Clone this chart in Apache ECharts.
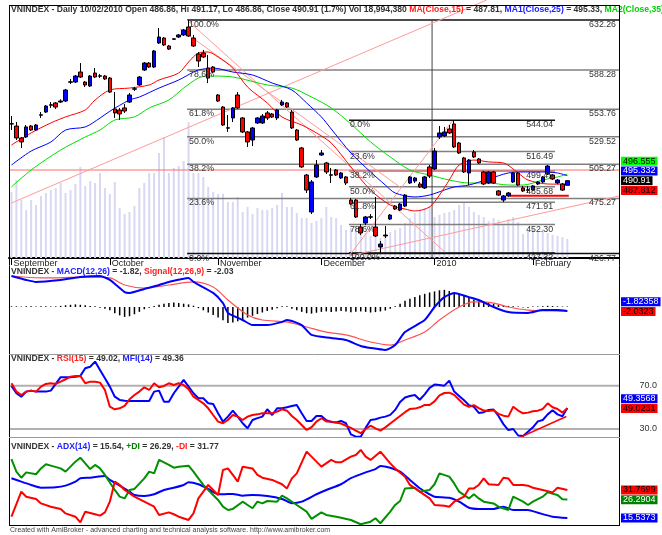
<!DOCTYPE html>
<html><head><meta charset="utf-8">
<script src="https://cdn.jsdelivr.net/npm/echarts/dist/echarts.min.js"></script>
<style>html,body{margin:0;padding:0;background:#fff}#c{width:662px;height:535px}</style>
</head><body><div id="c"></div>
<script>
// ---------------- DATA ----------------
const months = [[0,'September'],[20,'October'],[42,'November'],[63,'December'],[86,'2010'],[106,'February']];
const NCAT = 124;
const open  = [540.8,539.0,528.5,529.4,539.0,535.5,548.5,551.3,557.3,559.3,560.1,561.0,577.5,577.7,586.5,577.7,574.2,585.6,583.2,583.0,581.2,554.0,553.1,554.9,560.1,571.4,575.1,588.3,594.4,590.9,612.0,616.4,609.4,615.3,617.3,619.1,626.1,616.4,602.4,603.2,590.0,590.9,566.3,555.7,537.5,546.1,566.3,546.1,533.8,526.7,541.7,541.7,550.5,549.6,546.1,557.5,559.3,551.3,535.5,519.7,495.9,463.4,494.2,513.5,506.5,496.1,500.3,493.3,494.2,473.9,473.9,450.2,453.7,459.2,450.2,432.6,442.3,457.2,468.6,465.1,468.6,488.9,490.6,488.0,484.5,503.0,501.2,529.4,530.3,536.4,540.8,524.1,510.9,497.7,516.1,510.0,498.6,488.9,498.6,481.9,473.9,477.5,489.8,497.7,484.5,482.9,482.7,488.0,489.8,496.8,495.9,488.9,488.0,486.86];
const close = [541.0,528.5,525.0,538.2,535.5,539.9,548.9,556.6,557.7,555.7,561.0,570.7,577.9,583.0,582.1,575.1,583.0,582.1,582.8,580.4,568.9,550.5,549.6,552.2,566.3,571.8,582.1,594.4,590.9,605.0,617.3,610.3,606.7,615.7,619.1,623.5,618.2,609.4,596.2,599.7,581.2,586.5,561.0,539.9,537.1,554.9,554.9,533.8,525.0,537.3,546.1,547.8,546.1,546.9,553.1,560.1,555.7,537.3,526.7,503.0,482.7,489.8,504.7,515.3,498.6,495.7,495.9,497.7,488.9,470.4,459.0,444.9,459.0,458.8,442.3,435.2,443.1,460.7,466.0,470.4,478.3,494.2,493.3,485.4,494.2,495.0,517.0,532.9,533.8,532.9,520.6,515.3,498.6,509.1,511.8,506.5,488.0,498.6,488.9,478.3,477.5,480.1,497.7,487.1,481.9,482.5,486.3,489.8,494.2,503.8,492.4,491.5,482.7,490.91];
const low   = [535.5,526.7,519.7,528.5,534.6,534.6,546.1,550.5,554.9,554.0,559.3,560.1,576.0,576.8,581.2,573.3,573.3,581.2,581.2,579.5,568.1,546.1,544.3,550.5,559.3,569.8,574.2,587.4,590.0,590.0,611.2,609.4,605.9,614.7,616.4,618.2,617.3,608.5,590.9,598.8,576.8,585.6,560.1,539.0,533.8,542.5,554.0,532.9,520.6,521.4,540.8,540.8,544.3,546.1,544.3,556.6,554.9,536.4,525.8,502.1,480.1,461.6,493.3,512.6,496.8,488.9,495.0,492.4,487.1,469.5,458.1,443.1,451.9,457.2,441.4,427.3,440.5,456.3,465.1,464.2,467.7,488.0,488.9,484.5,483.6,493.3,500.3,527.6,529.4,532.0,519.7,514.4,497.7,487.1,510.9,505.6,487.1,488.0,488.0,477.5,472.2,476.6,488.9,486.3,481.0,480.1,481.9,487.1,488.9,495.9,491.5,488.0,481.9,486.86];
const high  = [547.8,542.5,529.4,539.9,539.9,540.8,551.3,557.5,560.1,560.1,562.5,571.6,580.4,583.9,594.4,578.6,583.9,590.0,584.8,583.9,582.1,568.9,554.9,558.4,568.1,573.3,583.0,595.3,595.3,605.9,625.2,617.3,610.3,616.4,620.0,624.4,632.26,619.1,604.1,605.9,601.5,591.8,567.2,556.6,548.7,555.7,568.9,546.9,534.6,538.2,546.9,549.6,552.2,550.5,554.0,561.9,560.1,553.1,536.4,520.6,496.8,491.5,509.1,517.9,507.4,502.1,501.2,498.6,495.0,475.7,474.8,452.8,459.9,461.6,476.6,437.9,451.1,461.6,469.5,471.3,479.2,495.0,494.2,489.8,495.0,504.7,519.7,539.0,538.2,539.9,544.04,525.0,511.8,510.0,517.9,510.9,499.5,499.5,499.5,482.7,478.3,481.0,498.6,498.6,486.3,486.3,487.1,490.6,495.0,504.7,496.8,492.4,488.9,491.17];
const volumeM = [66,78,58,48,58,53,62,65,68,70,75,65,68,74,91,72,77,75,85,70,64,76,50,44,46,52,70,75,85,85,105,121,85,90,92,97,136,85,85,81,71,66,64,64,56,56,61,46,51,44,50,48,48,50,53,65,51,51,45,40,40,35,37,40,51,41,40,33,28,30,32,27,25,22,24,20,22,26,28,30,35,40,45,48,50,52,41,43,45,46,48,53,56,51,46,43,41,37,40,38,33,39,41,36,24,28,30,26,29,25,23,22,21,18.99];
const ma15 = [[0,522.3],[4,532.9],[8,541.7],[11,547.0],[15,553.1],[17,561.9],[20,570.7],[24,572.4],[28,575.1],[30,579.5],[34,585.6],[36,595.3],[38,603.2],[40,604.1],[42,599.7],[45,590.0],[48,573.3],[52,559.3],[55,546.9],[59,539.9],[62,532.9],[65,524.1],[69,503.0],[73,482.7],[77,469.5],[80,466.0],[82,464.3],[85,467.8],[87,478.3],[89,491.5],[91,504.7],[94,509.1],[97,507.4],[100,506.5],[103,497.7],[105,491.5],[109,488.0],[113,487.81]];
const ma25 = [[0,504.7],[4,517.0],[8,524.9],[11,535.5],[15,538.2],[18,546.0],[20,552.0],[24,561.9],[26,564.5],[30,572.4],[34,579.5],[37,586.5],[38,588.3],[41,590.0],[45,586.5],[49,583.9],[53,576.8],[57,570.7],[60,559.3],[63,547.0],[65,536.4],[69,515.3],[73,498.6],[76,487.1],[78,480.1],[82,476.6],[85,478.3],[88,482.7],[90,485.4],[93,487.1],[97,492.4],[101,497.7],[104,498.6],[108,498.6],[111,497.7],[113,495.33]];
const ma35 = [[0,485.4],[4,500.3],[10,517.9],[15,529.3],[18,535.5],[21,544.3],[25,547.0],[28,554.9],[32,561.9],[35,572.4],[38,581.2],[40,583.0],[45,582.1],[52,575.1],[57,572.4],[61,564.5],[65,554.9],[69,540.8],[73,525.0],[77,511.8],[81,500.3],[85,495.9],[89,491.5],[93,488.9],[97,488.9],[101,487.1],[104,487.1],[108,491.5],[111,494.2],[113,496.555]];
const macd = [[0,14.1],[3,12.3],[5,11.4],[10,12.3],[14,13.6],[18,14.1],[20,12.3],[23,6.8],[24,6.4],[27,8.2],[30,10.0],[32,11.4],[36,13.2],[37,11.4],[41,6.4],[43,1.8],[44,-2.7],[47,-5.9],[49,-8.2],[52,-8.2],[55,-6.8],[56,-5.9],[59,-8.2],[61,-12.7],[65,-14.1],[68,-15.0],[71,-17.7],[73,-18.6],[76,-19.5],[78,-17.3],[80,-11.4],[84,-5.9],[86,0],[88,4.5],[90,6.4],[93,4.5],[95,3.2],[98,0],[101,-2.3],[105,-2.7],[108,-1.4],[111,-1.4],[113,-1.82]];
const signal = [[0,14.1],[6,13.2],[15,13.6],[20,13.2],[23,10.0],[27,8.6],[32,10.0],[37,11.4],[41,9.1],[44,3.2],[48,-3.6],[51,-5.9],[56,-6.8],[60,-9.1],[64,-11.4],[68,-12.7],[73,-15.9],[77,-17.3],[80,-15.0],[84,-11.4],[87,-5.9],[91,0],[94,2.3],[98,1.8],[101,0],[105,-1.4],[110,-1.8],[113,-2.03]];
const macdHist = [0.3,0.3,0.2,0.3,0.3,0.2,0.3,0.3,0.2,0.3,0.5,0.8,1.0,1.2,1.0,0.8,0.5,0.3,-0.3,-0.8,-1.5,-2.8,-3.8,-4.5,-4.2,-3.3,-2.2,-1.0,-0.3,0.5,1.0,1.5,1.8,2.0,1.8,1.5,1.2,0.6,-0.5,-1.5,-2.5,-3.6,-4.8,-6.0,-7.3,-7.0,-6.5,-5.6,-4.8,-4.0,-3.2,-2.5,-1.8,-1.2,-0.6,0.3,0.3,-0.8,-1.5,-2.2,-2.8,-3.0,-2.6,-2.2,-2.0,-2.3,-2.0,-1.8,-2.0,-2.4,-2.2,-2.0,-2.2,-2.5,-2.3,-2.0,-1.6,-0.8,0.3,1.5,2.8,3.8,4.6,5.4,6.0,6.6,7.1,7.6,7.8,7.3,6.6,5.8,5.0,4.2,3.4,2.8,2.2,1.8,1.4,1.1,0.8,0.5,0.3,0.2,-0.2,-0.3,0.2,0.2,0.3,0.5,0.4,0.3,0.2,0.21];
const rsi = [72.2,64.5,61.4,64.5,65.4,64.5,69.1,71.6,72.2,71.6,73.7,75.9,78.3,79.0,79.0,72.2,73.7,73.7,72.8,66.0,50.6,48.2,49.1,51.3,57.4,61.4,64.5,68.5,66.0,72.2,68.5,69.7,72.2,70.6,72.2,70.6,66.7,59.8,56.8,53.7,49.1,42.9,36.8,35.3,38.3,42.9,41.4,38.3,41.4,42.9,43.5,44.5,44.5,44.5,46.0,48.2,46.9,42.0,38.3,33.7,29.1,31.6,36.8,39.9,37.0,36.8,36.0,35.0,33.0,31.0,28.5,26.1,30.0,33.0,30.5,28.5,31.5,35.0,38.5,42.0,45.5,48.5,48.8,50.0,52.2,52.2,55.5,61.0,63.2,63.5,61.5,57.0,52.5,50.5,52.0,49.3,47.0,46.5,47.3,44.0,42.3,41.4,50.6,47.0,44.5,45.1,46.3,46.9,48.5,53.7,50.0,48.5,45.1,49.02];
const mfi = [69.7,63.0,59.8,64.5,65.4,64.5,64.5,64.5,65.4,71.6,77.8,77.8,77.8,78.3,79.0,86.1,87.5,92.2,84.5,76.8,69.1,59.8,56.8,56.1,55.9,55.9,55.9,55.9,55.9,64.5,65.4,55.2,55.2,63.0,69.1,75.3,69.1,63.0,58.4,58.4,53.7,53.1,44.5,36.8,41.4,46.9,41.4,35.3,30.7,38.3,40.0,41.4,48.2,42.9,49.1,49.1,50.1,51.3,52.2,44.5,37.4,37.4,42.0,42.0,38.0,36.5,36.0,37.5,35.3,25.0,22.9,22.9,31.0,38.3,39.0,40.5,41.4,43.0,47.6,55.0,59.0,60.5,61.4,57.0,62.0,68.0,71.0,70.5,70.0,74.6,64.5,60.5,56.5,52.0,50.5,44.8,45.5,47.5,48.0,42.0,34.5,29.0,30.0,24.0,23.5,27.5,31.5,37.0,38.3,43.5,47.3,43.5,41.8,49.36];
const adx = [[0,38.6],[2,36.6],[4,34.7],[6,33.1],[9,33.3],[11,34.3],[13,36.6],[14,38.6],[16,38.9],[19,39.9],[20,37.6],[22,34.3],[24,30.8],[25,28.9],[27,28.3],[29,29.3],[31,31.8],[33,33.1],[35,34.7],[36,36.2],[38,35.1],[40,32.4],[42,29.3],[43,29.3],[45,29.5],[47,28.5],[49,28.9],[52,28.3],[55,26.6],[57,24.1],[59,25.0],[62,29.3],[64,31.8],[67,35.1],[69,38.6],[72,42.0],[74,43.9],[75,45.7],[77,44.7],[79,42.4],[81,37.6],[83,32.8],[85,29.3],[86,27.9],[89,27.3],[91,25.0],[93,21.5],[95,20.8],[98,20.8],[100,22.1],[102,20.2],[105,20.2],[107,18.6],[110,16.3],[113,15.54]];
const plusDI = [[0,49.7],[1,42.4],[2,38.9],[3,42.0],[5,40.9],[6,44.3],[7,46.7],[8,45.9],[10,44.3],[11,42.4],[12,45.3],[13,48.2],[14,50.5],[15,47.2],[16,43.9],[17,46.3],[18,44.3],[19,40.5],[21,31.8],[22,27.9],[23,26.9],[24,31.8],[25,32.4],[27,38.5],[28,42.4],[29,41.4],[30,49.2],[32,46.3],[33,44.7],[34,45.3],[36,45.9],[37,42.4],[38,38.5],[39,34.7],[40,31.8],[42,26.0],[43,22.1],[44,20.2],[45,20.8],[47,25.0],[48,23.1],[49,21.2],[50,25.0],[51,24.0],[52,25.4],[54,25.0],[55,28.5],[56,26.9],[58,23.1],[60,19.2],[61,15.0],[63,18.8],[64,17.3],[66,16.3],[67,15.7],[69,14.4],[71,11.9],[73,13.4],[74,15.4],[75,12.5],[77,19.2],[78,23.1],[79,25.4],[80,32.7],[82,33.1],[83,30.8],[85,31.8],[86,35.1],[87,41.4],[89,39.5],[90,35.6],[91,30.8],[93,26.9],[94,29.3],[95,26.9],[96,25.0],[98,24.0],[99,22.1],[101,20.2],[102,27.9],[104,25.0],[105,23.1],[106,25.0],[108,27.9],[109,30.4],[111,28.9],[112,26.4],[113,26.29]];
const minusDI = [[0,16.3],[2,30.8],[3,27.9],[5,26.6],[6,24.0],[8,22.1],[10,20.8],[11,18.2],[13,16.3],[14,13.0],[15,19.2],[17,17.7],[18,16.9],[19,18.8],[20,25.0],[21,36.6],[22,34.7],[23,31.8],[25,27.9],[27,25.0],[29,22.1],[30,17.3],[32,18.8],[33,17.7],[34,16.3],[36,14.4],[37,18.2],[38,26.9],[40,34.7],[42,28.9],[43,43.4],[44,44.3],[45,40.5],[46,36.6],[47,45.3],[49,44.3],[50,40.5],[51,38.9],[53,37.6],[55,35.1],[56,32.7],[57,38.5],[58,41.4],[60,54.0],[61,51.1],[63,45.3],[65,49.2],[66,47.8],[67,47.8],[69,51.1],[70,52.1],[71,55.0],[72,51.1],[73,49.2],[75,54.0],[77,47.2],[78,44.3],[80,39.5],[81,34.7],[83,30.8],[85,26.9],[86,23.1],[88,22.7],[89,22.1],[90,25.0],[92,27.9],[93,32.7],[94,32.7],[95,34.7],[96,38.5],[97,35.1],[99,34.7],[100,38.9],[101,38.5],[102,34.7],[104,34.7],[105,34.3],[106,33.1],[108,31.8],[110,30.4],[111,33.1],[113,31.77]];
// Fibonacci tools (levels) and drawn lines
const fibLeftLevels = [632.26,588.28,553.76,529.52,505.27,475.27,426.77];
const fibLeftPct = ['100.0%','78.6%','61.8%','50.0%','38.2%','23.6%','0.0%'];
const fibLeftSpan = [35.7, 123.5];
const fibRightLevels = [544.04,516.49,499.45,485.68,471.91,452.30,427.32];
const fibRightPct = ['0.0%','23.6%','38.2%','50.0%','61.8%','78.6%','100.0%'];
const fibRightSpan = [68.6, 110.5];
const trendLines = [
  [[0,471.3],[96.6,649.85]],
  [[68.6,424.7],[123.5,477.45]],
  [[68.8,425.8],[89.6,543.3]],
  [[35.7,632.26],[88.1,428.2]],
  [[34.3,624.3],[79.0,485.3]]
];
const hLine500 = [[-0.5,500.3],[123.5,500.3]];
const supportLine = [[101.3,477.7],[113.3,477.7]];
const yearLine = [[85.5,632.26],[85.5,422.92]];
const rsiTrend = [[103,21.5],[112.8,41.5]];
const rsiLevels = [70, 30];
// right-side value boxes
const priceBoxes = [{t:'496.555',v:496.555,bg:'#00ff00',fg:'#000'},{t:'495.332',v:495.332,bg:'#0000ff',fg:'#fff'},{t:'490.91',v:490.91,bg:'#000000',fg:'#fff',anchor:true},{t:'487.812',v:487.812,bg:'#ff0000',fg:'#000'}];
const macdBoxes = [{t:'-1.82358',v:-1.82358,bg:'#0000ff',fg:'#fff'},{t:'-2.0323',v:-2.0323,bg:'#ff0000',fg:'#000',anchor:true}];
const rsiBoxes = [{t:'49.3568',v:49.3568,bg:'#0000ff',fg:'#fff'},{t:'49.0231',v:49.0231,bg:'#ff0000',fg:'#000',anchor:true}];
const adxBoxes = [{t:'31.7699',v:31.7699,bg:'#ff0000',fg:'#000',anchor:true},{t:'26.2904',v:26.2904,bg:'#008000',fg:'#fff'},{t:'15.5373',v:15.5373,bg:'#0000ff',fg:'#fff'}];

// ---------------- CHART ----------------
const FONT = '"Liberation Sans", Arial, sans-serif';
const TS = 8.6;
const last = open.length - 1;
const monthMap = new Map(months);
const cats = Array.from({length:NCAT}, (_, i) => 'b' + i);
const XMIN = -0.5, XMAX = NCAT - 0.5;

function rich(size) {
  const base = {fontSize:size, fontFamily:FONT};
  return {k:Object.assign({color:'#333'},base), r:Object.assign({color:'#ff2020'},base),
          b:Object.assign({color:'#2020ff'},base), g:Object.assign({color:'#00d000'},base),
          dg:Object.assign({color:'#008000'},base)};
}
const pct = ((close[last]/close[last-1]-1)*100).toFixed(1);
const header = '{k|VNINDEX - Daily 10/02/2010 Open ' + open[last].toFixed(2) + ', Hi ' + high[last].toFixed(2) +
  ', Lo ' + low[last].toFixed(2) + ', Close ' + close[last].toFixed(2) + ' (' + pct + '%) Vol 18,994,380 }' +
  '{r|MA(Close,15)}{k| = ' + ma15[ma15.length-1][1].toFixed(2) + ', }{b|MA1(Close,25)}{k| = ' +
  ma25[ma25.length-1][1].toFixed(2) + ', }{g|MA2(Close,35)}';

function line(xi, yi, data, color, width, extra) {
  return Object.assign({type:'line', xAxisIndex:xi, yAxisIndex:yi, data, symbol:'none', silent:true,
    lineStyle:{color, width}, z:3}, extra || {});
}

const series = [];
series.push({type:'bar', xAxisIndex:0, yAxisIndex:1, data:volumeM, barWidth:2, silent:true,
  itemStyle:{color:'#d8d8f3'}, z:1});
fibLeftLevels.forEach((v, i) => {
  const edge = (i === 0 || i === fibLeftLevels.length - 1);
  series.push(line(1, 0, [[fibLeftSpan[0], v], [fibLeftSpan[1], v]], edge ? '#111' : '#808080', 1.5, {z:2}));
});
fibRightLevels.forEach((v, i) => {
  const edge = (i === 0 || i === fibRightLevels.length - 1);
  series.push(line(1, 0, [[fibRightSpan[0], v], [fibRightSpan[1], v]], edge ? '#111' : '#808080', 1.5, {z:2}));
});
series.push(line(1, 0, yearLine, '#444', 1, {z:2}));
series.push(line(1, 0, hLine500, '#ff6a6a', 1, {z:2}));
trendLines.forEach(t => series.push(line(1, 0, t, '#ff9a9a', 1, {z:3, clip:false})));
series.push(line(1, 0, supportLine, '#ff0000', 2, {z:3}));
series.push(line(1, 0, ma35, '#00e000', 1, {z:4, smooth:0.3}));
series.push(line(1, 0, ma25, '#0000ff', 1, {z:4, smooth:0.3}));
series.push(line(1, 0, ma15, '#ff0000', 1, {z:4, smooth:0.3}));
series.push({type:'candlestick', xAxisIndex:0, yAxisIndex:0, silent:true, barWidth:4, z:6,
  data: open.map((o, i) => [o, close[i], low[i], high[i]]),
  itemStyle:{color:'#0000ff', color0:'#ff0000', borderColor:'#000', borderColor0:'#000', borderColorDoji:'#000', borderWidth:1}});
// MACD
series.push({type:'bar', xAxisIndex:2, yAxisIndex:2, data:macdHist, barWidth:1.5, silent:true, itemStyle:{color:'#000'}, z:2});
series.push(line(3, 2, signal, '#ff5050', 1.2, {smooth:0.3}));
series.push(line(3, 2, macd, '#0000ff', 2, {smooth:0.2}));
// RSI
rsiLevels.forEach(v => series.push(line(4, 3, [[XMIN, v], [XMAX, v]], '#b0b0b0', 2, {z:2})));
series.push(line(4, 3, mfi.map((v, i) => [i, v]), '#0000ff', 2));
series.push(line(4, 3, rsi.map((v, i) => [i, v]), '#ff0000', 2));
series.push(line(4, 3, rsiTrend, '#ff0000', 1.5));
// ADX
series.push(line(5, 4, adx, '#0000ff', 2, {smooth:0.2}));
series.push(line(5, 4, plusDI, '#009000', 2));
series.push(line(5, 4, minusDI, '#ff0000', 2));

const option = {
  animation:false,
  backgroundColor:'#fff',
  title:[
    {left:11, top:5, padding:0, text:header, textStyle:{fontSize:TS, fontFamily:FONT, rich:rich(TS)}},
    {left:11, top:267, padding:0, text:'{k|VNINDEX - }{b|MACD(12,26)}{k| = -1.82, }{r|Signal(12,26,9)}{k| = -2.03}', textStyle:{fontSize:TS, rich:rich(TS)}},
    {left:11, top:354, padding:0, text:'{k|VNINDEX - }{r|RSI(15)}{k| = ' + rsi[last].toFixed(2) + ', }{b|MFI(14)}{k| = ' + mfi[last].toFixed(2) + '}', textStyle:{fontSize:TS, rich:rich(TS)}},
    {left:11, top:442, padding:0, text:'{k|VNINDEX - }{b|ADX(14)}{k| = ' + adx[adx.length-1][1].toFixed(2) + ', }{dg|+DI}{k| = ' + plusDI[plusDI.length-1][1].toFixed(2) + ', }{r|-DI}{k| = ' + minusDI[minusDI.length-1][1].toFixed(2) + '}', textStyle:{fontSize:TS, rich:rich(TS)}},
    {left:10, top:527, padding:0, text:'Created with AmiBroker - advanced charting and technical analysis software. http://www.amibroker.com', textStyle:{fontSize:7, fontWeight:'normal', color:'#444', fontFamily:FONT}}
  ],
  grid:[
    {left:9, top:5, width:610, height:253},
    {left:9, top:268, width:610, height:86},
    {left:9, top:355, width:610, height:82},
    {left:9, top:437, width:610, height:88}
  ],
  xAxis:[
    {type:'category', gridIndex:0, data:cats, boundaryGap:true,
     axisLine:{lineStyle:{color:'#000', width:2}},
     axisTick:{show:true, alignWithLabel:true, interval:(i) => monthMap.has(i), length:7, lineStyle:{color:'#000', width:1}},
     axisLabel:{interval:0, formatter:(v, i) => monthMap.get(i) || '', align:'left', margin:1, padding:[0,0,0,2], fontSize:9, color:'#222', fontFamily:FONT},
     splitLine:{show:false}},
    {type:'value', gridIndex:0, min:XMIN, max:XMAX, show:false},
    {type:'category', gridIndex:1, data:cats, boundaryGap:true, show:false},
    {type:'value', gridIndex:1, min:XMIN, max:XMAX, show:false},
    {type:'value', gridIndex:2, min:XMIN, max:XMAX, show:false},
    {type:'value', gridIndex:3, min:XMIN, max:XMAX, show:false}
  ],
  yAxis:[
    {type:'value', gridIndex:0, min:422.92, max:645.45, show:false},
    {type:'value', gridIndex:0, min:0, max:253, show:false},
    {type:'value', gridIndex:1, min:-21.36, max:17.73, show:false},
    {type:'value', gridIndex:2, min:22.6, max:98.3, show:false},
    {type:'value', gridIndex:3, min:11.48, max:62.5, show:false}
  ],
  series
};

const chart = echarts.init(document.getElementById('c'), null, {width:662, height:535});
chart.setOption(option);

// ------------- text overlays positioned from data -------------
const px = v => chart.convertToPixel({xAxisIndex:1}, v);
const py = (yi, v) => chart.convertToPixel({yAxisIndex:yi}, v);
function txt(x, y, text, o) {
  const st = Object.assign({text, x, y, font:'8.8px ' + FONT, fill:'#333', align:'left', textAlign:'left',
    verticalAlign:'middle', textVerticalAlign:'middle'}, o || {});
  if (o && o.align) st.textAlign = o.align;
  return {type:'text', silent:true, z:100, style:st};
}
function ln(x1, y1, x2, y2, color, w) {
  return {type:'line', silent:true, z:90, shape:{x1, y1, x2, y2}, style:{stroke:color, lineWidth:w}};
}
const g = [];
fibLeftLevels.forEach((v, i) => {
  const y = py(0, v) + 4.5;
  g.push(txt(px(fibLeftSpan[0]) + 2, y, fibLeftPct[i]));
  g.push(txt(px(fibLeftSpan[1]) - 3, y, v.toFixed(2), {align:'right'}));
});
fibRightLevels.forEach((v, i) => {
  const y = py(0, v) + 4.5;
  g.push(txt(px(fibRightSpan[0]) + 1, y, fibRightPct[i]));
  g.push(txt(px(fibRightSpan[1]) - 2, y, v.toFixed(2), {align:'right'}));
});
function boxes(list, yi) {
  const items = list.map(b => Object.assign({y:py(yi, b.v)}, b)).sort((a, b) => a.y - b.y);
  const H = 9.7;
  let a = items.findIndex(b => b.anchor); if (a < 0) a = 0;
  for (let i = a - 1; i >= 0; i--) items[i].y = Math.min(items[i].y, items[i+1].y - H);
  for (let i = a + 1; i < items.length; i++) items[i].y = Math.max(items[i].y, items[i-1].y + H);
  items.forEach(b => g.push(txt(621, b.y, b.t, {font:'9px ' + FONT, fill:b.fg, backgroundColor:b.bg, padding:[0,2,0,2]})));
}
boxes(priceBoxes, 0); boxes(macdBoxes, 2); boxes(rsiBoxes, 3); boxes(adxBoxes, 4);
rsiLevels.forEach(v => g.push(txt(657, py(3, v), v.toFixed(1), {align:'right', font:'9px ' + FONT})));
// frame
g.push(ln(9.5, 5, 9.5, 526, '#000', 1));
g.push(ln(619.5, 5, 619.5, 526, '#000', 1));
g.push(ln(9, 5.5, 620, 5.5, '#000', 1));
g.push(ln(9, 354.5, 620, 354.5, '#9a9a9a', 1));
g.push(ln(9, 437.5, 620, 437.5, '#9a9a9a', 1));
g.push(ln(9, 525.5, 620, 525.5, '#000', 1));
chart.setOption({graphic:g});
</script></body></html>
